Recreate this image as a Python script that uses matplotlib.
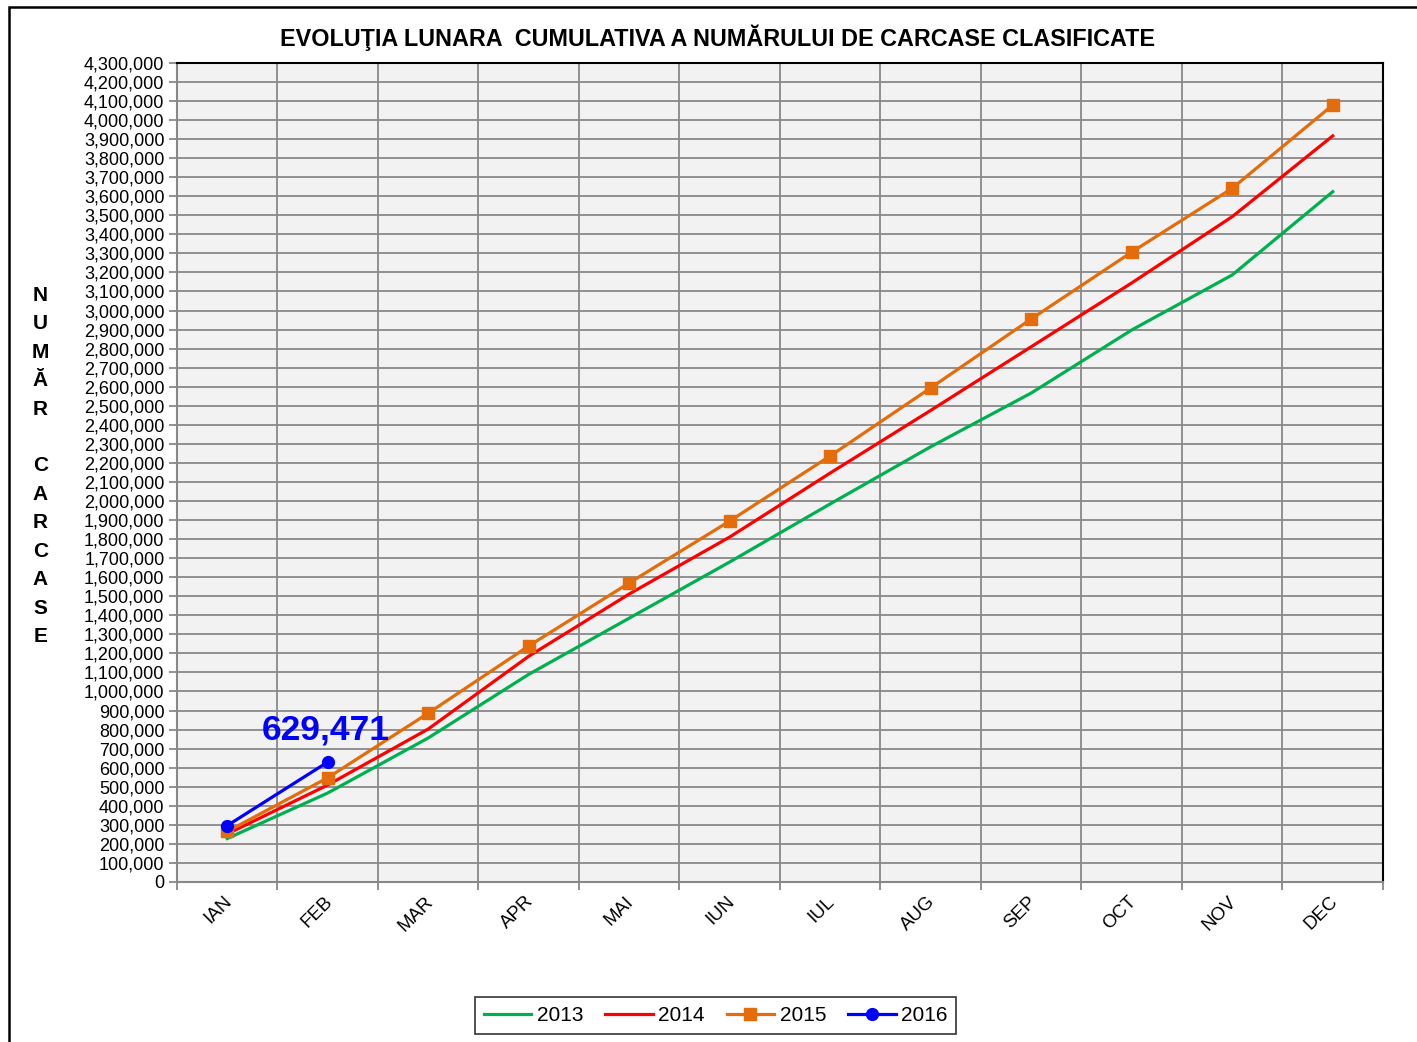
import numpy as np
import matplotlib
matplotlib.use("Agg")
import matplotlib.pyplot as plt
import matplotlib.transforms as mtransforms
from matplotlib.patches import Rectangle
from matplotlib.ticker import FuncFormatter, MultipleLocator, FixedLocator

plt.rcParams['font.family'] = ['Liberation Sans', 'DejaVu Sans']

# date
luni = ['IAN', 'FEB', 'MAR', 'APR', 'MAI', 'IUN', 'IUL', 'AUG', 'SEP', 'OCT', 'NOV', 'DEC']
v2013 = [228000, 467000, 756000, 1090000, 1385000, 1680000, 1985000, 2285000, 2567000, 2898000, 3187000, 3624000]
v2014 = [252000, 509000, 803000, 1185000, 1512000, 1811000, 2147000, 2476000, 2810000, 3145000, 3493000, 3917000]
v2015 = [265000, 547000, 886000, 1239000, 1570000, 1895000, 2237000, 2594000, 2956000, 3307000, 3642000, 4079000]
v2016 = [296000, 629471]

fig = plt.figure(figsize=(14.17, 10.42), dpi=100)
ax = fig.add_axes([0.1249, 0.1536, 0.8511, 0.7860])
ax.set_facecolor('#F2F2F2')

x = np.arange(len(luni)) + 0.5
ax.plot(x, v2013, color='#00B050', lw=2.3, label='2013')
ax.plot(x, v2014, color='#FF0000', lw=2.3, label='2014')
ax.plot(x, v2015, color='#E46C0A', lw=2.3, marker='s', ms=8.5, label='2015')
ax.plot(x[:len(v2016)], v2016, color='#0000FF', lw=2.3, marker='o', ms=8.5, label='2016')

ax.annotate('{:,}'.format(v2016[-1]), (x[1], v2016[-1]), xytext=(-2, 32),
            textcoords='offset pixels', ha='center', va='center',
            fontsize=25.5, fontweight='bold', color='#0000FF')

ax.set_xlim(0, 12)
ax.set_ylim(0, 4300000)
ax.yaxis.set_major_locator(MultipleLocator(100000))
ax.yaxis.set_major_formatter(FuncFormatter(lambda v, p: '{:,.0f}'.format(v)))
ax.xaxis.set_major_locator(FixedLocator(x))
ax.set_xticklabels(luni, rotation=45, ha='right', rotation_mode='anchor', fontsize=13.5)
ax.xaxis.set_minor_locator(FixedLocator(np.arange(13)))
ax.tick_params(axis='x', which='major', length=0, pad=8)
ax.tick_params(axis='x', which='minor', length=6, color='#888888', width=1.3)
ax.tick_params(axis='y', length=6, color='#888888', width=1.3, labelsize=13, pad=3)
ax.grid(axis='y', which='major', color='#888888', lw=1.3)
ax.grid(axis='x', which='minor', color='#888888', lw=1.3)
ax.set_axisbelow(True)

deplasare = mtransforms.ScaledTranslation(-4 / 100, 0, fig.dpi_scale_trans)
for lbl in ax.get_xticklabels():
    lbl.set_transform(lbl.get_transform() + deplasare)

for s in ['top', 'right']:
    ax.spines[s].set_color('black')
    ax.spines[s].set_linewidth(1.5)
for s in ['left', 'bottom']:
    ax.spines[s].set_color('#888888')
    ax.spines[s].set_linewidth(1.5)

fig.text(0.506, 0.9635, 'EVOLUŢIA LUNARA  CUMULATIVA A NUMĂRULUI DE CARCASE CLASIFICATE',
         ha='center', va='center', fontsize=16.85, fontweight='bold')

eticheta = 'NUMĂR CARCASE'
fig.text(0.0285, 0.5528, '\n'.join(eticheta), ha='center', va='center',
         fontsize=15, fontweight='bold', linespacing=1.63)

leg = fig.legend(loc='center', bbox_to_anchor=(0.505, 0.0254), ncol=4, fontsize=15,
                 frameon=True, fancybox=False, edgecolor='black', handlelength=2.3,
                 handletextpad=0.25, columnspacing=1.05, borderpad=0.42)
leg.get_frame().set_linewidth(1.2)

fig.patches.append(Rectangle((9 / 1417, -0.01), 1.0, 1.01 - 7 / 1042,
                             transform=fig.transFigure, fill=False,
                             edgecolor='black', lw=1.8))

fig.savefig('out.png', dpi=100)
